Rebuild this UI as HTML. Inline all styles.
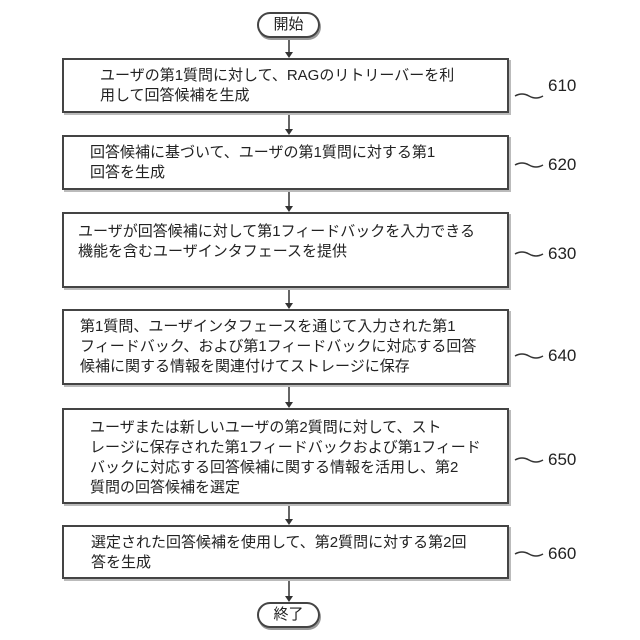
<!DOCTYPE html>
<html><head><meta charset="utf-8"><style>
body{margin:0;width:640px;height:640px;background:#fff;position:relative;overflow:hidden;font-family:"Liberation Sans","Noto Sans CJK JP",sans-serif;color:#222}
.b{position:absolute;left:62px;width:447px;border:2px solid #444;box-shadow:2px 2px 0 #bbb;background:#fff;box-sizing:border-box;font-size:15px;line-height:20px}
.b div{position:absolute;white-space:nowrap}
.o{position:absolute;left:257px;width:63px;height:26px;border:2px solid #444;border-radius:14px;box-sizing:border-box;text-align:center;font-size:15px;line-height:22px;box-shadow:1px 2px 0 #999}
.n{position:absolute;left:548px;font-size:17px}
svg{position:absolute;left:0;top:0}
</style></head><body>
<svg width="640" height="640">
<g stroke="#333" stroke-width="1.5" fill="none">
<line x1="289" y1="38" x2="289" y2="53"/><line x1="289" y1="113" x2="289" y2="130"/>
<line x1="289" y1="190" x2="289" y2="207"/><line x1="289" y1="288" x2="289" y2="304"/>
<line x1="289" y1="385" x2="289" y2="403"/><line x1="289" y1="504" x2="289" y2="520"/>
<line x1="289" y1="579" x2="289" y2="597"/>
<path d="M515 96 q7 -4 14 0 t14 0"/><path d="M515 165 q7 -4 14 0 t14 0"/>
<path d="M515 254 q7 -4 14 0 t14 0"/><path d="M515 356 q7 -4 14 0 t14 0"/>
<path d="M515 460 q7 -4 14 0 t14 0"/><path d="M515 554 q7 -4 14 0 t14 0"/>
</g>
<g fill="#333">
<path d="M285 52 l8 0 l-4 6z"/><path d="M285 129 l8 0 l-4 6z"/><path d="M285 206 l8 0 l-4 6z"/>
<path d="M285 303 l8 0 l-4 6z"/><path d="M285 402 l8 0 l-4 6z"/><path d="M285 519 l8 0 l-4 6z"/><path d="M285 596 l8 0 l-4 6z"/>
</g></svg>
<div class="o" style="top:12px">開始</div>
<div class="o" style="top:602px">終了</div>
<div class="b" style="top:58px;height:55px"><div style="left:36px;top:6px">ユーザの第1質問に対して、RAGのリトリーバーを利<br>用して回答候補を生成</div></div>
<div class="b" style="top:135px;height:55px"><div style="left:26px;top:6px">回答候補に基づいて、ユーザの第1質問に対する第1<br>回答を生成</div></div>
<div class="b" style="top:212px;height:76px"><div style="left:14px;top:8px">ユーザが回答候補に対して第1フィードバックを入力できる<br>機能を含むユーザインタフェースを提供</div></div>
<div class="b" style="top:309px;height:76px"><div style="left:16px;top:6px">第1質問、ユーザインタフェースを通じて入力された第1<br>フィードバック、および第1フィードバックに対応する回答<br>候補に関する情報を関連付けてストレージに保存</div></div>
<div class="b" style="top:408px;height:96px"><div style="left:26px;top:8px">ユーザまたは新しいユーザの第2質問に対して、スト<br>レージに保存された第1フィードバックおよび第1フィード<br>バックに対応する回答候補に関する情報を活用し、第2<br>質問の回答候補を選定</div></div>
<div class="b" style="top:525px;height:54px"><div style="left:27px;top:6px">選定された回答候補を使用して、第2質問に対する第2回<br>答を生成</div></div>
<div class="n" style="top:76px">610</div><div class="n" style="top:155px">620</div>
<div class="n" style="top:244px">630</div><div class="n" style="top:346px">640</div>
<div class="n" style="top:450px">650</div><div class="n" style="top:544px">660</div>
</body></html>
